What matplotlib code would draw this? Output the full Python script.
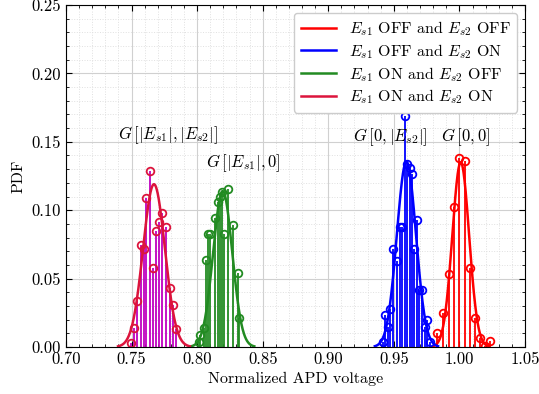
import numpy as np
import matplotlib
matplotlib.use("Agg")
import matplotlib.pyplot as plt
from matplotlib.ticker import MultipleLocator, FormatStrFormatter
from matplotlib.lines import Line2D

plt.rcParams['font.family'] = 'serif'
plt.rcParams['font.serif'] = ['cmr10']
plt.rcParams['mathtext.fontset'] = 'cm'
plt.rcParams['axes.formatter.use_mathtext'] = True
plt.rcParams['font.size'] = 11.5

# E_s1 OFF, E_s2 OFF  -> G[0,0]
red_x = [0.9832, 0.9878, 0.9919, 0.9957, 1.0000, 1.0041, 1.0082, 1.0122, 1.0160, 1.0198, 1.0236]
red_y = [0.010, 0.025, 0.053, 0.102, 0.138, 0.136, 0.0575, 0.0214, 0.0063, 0.0005, 0.0044]

# E_s1 OFF, E_s2 ON  -> G[0,|E_s2|]
blue_x = [0.9418, 0.9431, 0.9456, 0.9474, 0.9494, 0.9527, 0.9545, 0.9565, 0.9584, 0.9601,
          0.9622, 0.9637, 0.9654, 0.9677, 0.9695, 0.9716, 0.9736, 0.9756, 0.9777]
blue_y = [0.004, 0.0234, 0.0148, 0.0278, 0.0714, 0.063, 0.088, 0.088, 0.169, 0.134,
          0.1306, 0.1265, 0.0714, 0.0928, 0.042, 0.042, 0.0148, 0.0197, 0.004]

# E_s1 ON, E_s2 OFF  -> G[|E_s1|,0]
green_x = [0.8011, 0.8022, 0.8055, 0.8068, 0.8085, 0.8101, 0.8139, 0.8157, 0.8175, 0.8188,
           0.8207, 0.8233, 0.8276, 0.8310, 0.8322]
green_y = [0.004, 0.009, 0.0141, 0.0638, 0.0824, 0.0824, 0.0943, 0.106, 0.110, 0.1133,
           0.0824, 0.1153, 0.0894, 0.0541, 0.0212]

# E_s1 ON, E_s2 ON  -> G[|E_s1|,|E_s2|]
mag_x = [0.7498, 0.7519, 0.7539, 0.7570, 0.7595, 0.7613, 0.7641, 0.7666, 0.7684, 0.7709,
         0.7735, 0.7760, 0.7791, 0.7818, 0.7839]
mag_y = [0.0027, 0.0137, 0.0336, 0.0746, 0.0714, 0.1087, 0.1287, 0.0575, 0.0848, 0.0916,
         0.0982, 0.0875, 0.0433, 0.0307, 0.0132]

# gaussian fits (mean, sigma, peak)
red_fit = (1.0010, 0.0064, 0.135)
blue_fit = (0.9596, 0.0073, 0.1355)
green_fit = (0.8195, 0.0073, 0.114)
mag_fit = (0.7671, 0.0083, 0.119)


def gauss(fit, lo, hi):
    m, s, a = fit
    xx = np.linspace(lo, hi, 300)
    return xx, a * np.exp(-(xx - m) ** 2 / (2 * s ** 2))


fig = plt.figure(figsize=(5.39, 3.94), dpi=100)
ax = fig.add_axes([0.1224, 0.1193, 0.8516, 0.8680])

series = [
    (red_x, red_y, red_fit, 'red', 'red', 'red'),
    (blue_x, blue_y, blue_fit, 'blue', 'blue', 'blue'),
    (green_x, green_y, green_fit, 'forestgreen', 'forestgreen', 'forestgreen'),
    (mag_x, mag_y, mag_fit, 'm', 'crimson', 'crimson'),
]

for xs, ys, fit, stem_c, mark_c, line_c in series:
    ml, sl, bl = ax.stem(xs, ys, basefmt=' ')
    plt.setp(sl, color=stem_c, linewidth=1.3)
    plt.setp(ml, color=mark_c, marker='o', markersize=5.5, markerfacecolor='none',
             markeredgewidth=1.3)
    m, s, a = fit
    gx, gy = gauss(fit, m - 3.3 * s, m + 3.3 * s)
    ax.plot(gx, gy, color=line_c, linewidth=1.8)

ax.text(0.7397, 0.155, r'$G\,[|E_{s1}|,|E_{s2}|]$', va='center', ha='left', fontsize=12)
ax.text(0.8068, 0.1345, r'$G\,[|E_{s1}|,0]$', va='center', ha='left', fontsize=12)
ax.text(0.9189, 0.1535, r'$G\,[0,|E_{s2}|]$', va='center', ha='left', fontsize=12)
ax.text(0.9860, 0.1535, r'$G\,[0,0]$', va='center', ha='left', fontsize=12)

ax.set_xlim(0.70, 1.05)
ax.set_ylim(0.0, 0.25)
ax.xaxis.set_major_locator(MultipleLocator(0.05))
ax.xaxis.set_minor_locator(MultipleLocator(0.01))
ax.yaxis.set_major_locator(MultipleLocator(0.05))
ax.yaxis.set_minor_locator(MultipleLocator(0.01))
ax.xaxis.set_major_formatter(FormatStrFormatter('%.2f'))
ax.yaxis.set_major_formatter(FormatStrFormatter('%.2f'))
ax.tick_params(which='both', direction='in', top=True, right=True)
ax.tick_params(which='major', length=4, labelsize=12)
ax.tick_params(which='minor', length=2)
ax.grid(which='major', color='#d0d0d0', linewidth=0.8)
ax.grid(which='minor', color='#e0e0e0', linestyle=':', linewidth=0.7)
ax.set_axisbelow(True)

ax.set_xlabel('Normalized APD voltage', fontsize=11.5, labelpad=3)
ax.set_ylabel('PDF', fontsize=11.5)

handles = [Line2D([], [], color=c, linewidth=1.8) for c in ['red', 'blue', 'forestgreen', 'crimson']]
labels = [r'$E_{s1}$ OFF and $E_{s2}$ OFF', r'$E_{s1}$ OFF and $E_{s2}$ ON',
          r'$E_{s1}$ ON and $E_{s2}$ OFF', r'$E_{s1}$ ON and $E_{s2}$ ON']
ax.legend(handles, labels, loc='upper right', fontsize=11.5, handlelength=2.2,
          labelspacing=0.25, borderpad=0.4, framealpha=1)

fig.savefig('out.png', dpi=100)
